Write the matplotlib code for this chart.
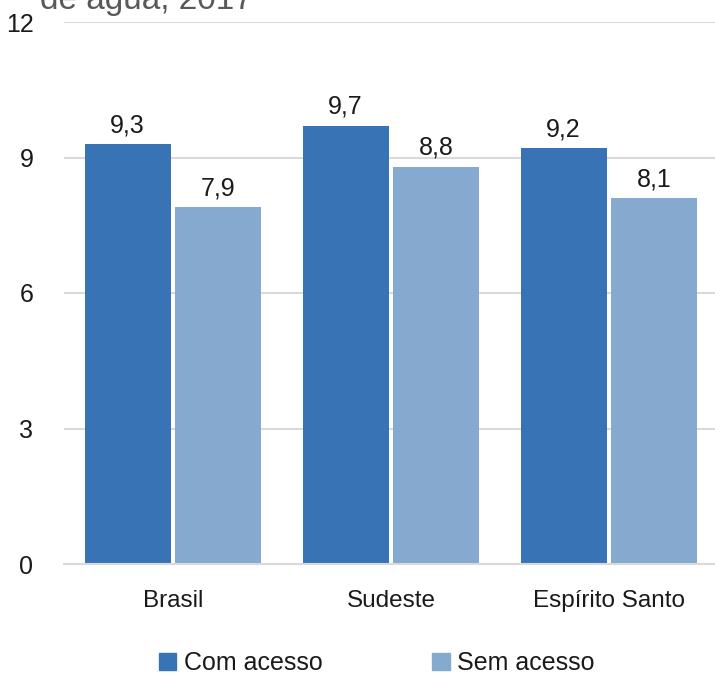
"""
Bar chart: com acesso vs sem acesso a agua, 2017 (Brasil, Sudeste, Espirito Santo).
"""

import numpy as np
import matplotlib
matplotlib.use('Agg')
import matplotlib.pyplot as plt
from matplotlib.patches import Patch

plt.rcParams['font.family'] = ['Liberation Sans', 'DejaVu Sans']

# Data
regions = ['Brasil', 'Sudeste', 'Espírito Santo']
com_acesso = [9.3, 9.7, 9.2]
sem_acesso = [7.9, 8.8, 8.1]
series_names = ['Com acesso', 'Sem acesso']
y_ticks = [0, 3, 6, 9, 12]

DARK = '#3874b5'
LIGHT = '#86a9d0'
TEXT = '#1a1a1a'


def fmt(v):
    return f'{v:.1f}'.replace('.', ',')


def main():
    fig = plt.figure(figsize=(7.15, 6.76), dpi=100)
    ax = fig.add_axes([64 / 715, 1 - 564 / 676, 654 / 715, 542 / 676])

    x = np.arange(len(regions))
    width = 0.395
    off = 0.208

    bars_com = ax.bar(x - off, com_acesso, width, color=DARK, zorder=3)
    bars_sem = ax.bar(x + off, sem_acesso, width, color=LIGHT, zorder=3)

    for bars, vals in [(bars_com, com_acesso), (bars_sem, sem_acesso)]:
        for b, v in zip(bars, vals):
            ax.annotate(fmt(v), (b.get_x() + b.get_width() / 2, v),
                        xytext=(0, 5), textcoords='offset points',
                        ha='center', va='bottom', fontsize=18, color=TEXT)

    ax.set_xlim(-0.5, 2.5)
    ax.set_ylim(0, 12)
    ax.set_yticks(y_ticks)
    ax.set_yticklabels([str(t) for t in y_ticks], fontsize=18, color=TEXT)
    ax.set_xticks(x)
    ax.set_xticklabels(regions, fontsize=17.5, color=TEXT)
    ax.tick_params(axis='both', length=0)
    ax.tick_params(axis='y', pad=22)
    ax.tick_params(axis='x', pad=19)

    ax.grid(True, axis='y', color='#d9d9d9', linewidth=1.5, zorder=0)
    for s in ['top', 'right', 'left']:
        ax.spines[s].set_visible(False)
    ax.spines['bottom'].set_color('#d9d9d9')
    ax.spines['bottom'].set_linewidth(1.5)
    ax.spines['bottom'].set_zorder(4)

    handles = [Patch(color=DARK), Patch(color=LIGHT)]
    fig.legend(handles, series_names, loc='center', bbox_to_anchor=(0.527, 1 - 663 / 676),
               ncol=2, frameon=False, fontsize=18, handlelength=0.7, handleheight=0.7,
               handletextpad=0.3, columnspacing=4.4, labelcolor=TEXT,
               borderpad=0.1)

    # title is cut off at the top edge of the picture
    fig.text(40 / 715, 1 - 9 / 676, 'de água, 2017', fontsize=24, color='#595959',
             ha='left', va='baseline')

    fig.savefig('out.png', dpi=100)
    plt.close(fig)


if __name__ == '__main__':
    main()
